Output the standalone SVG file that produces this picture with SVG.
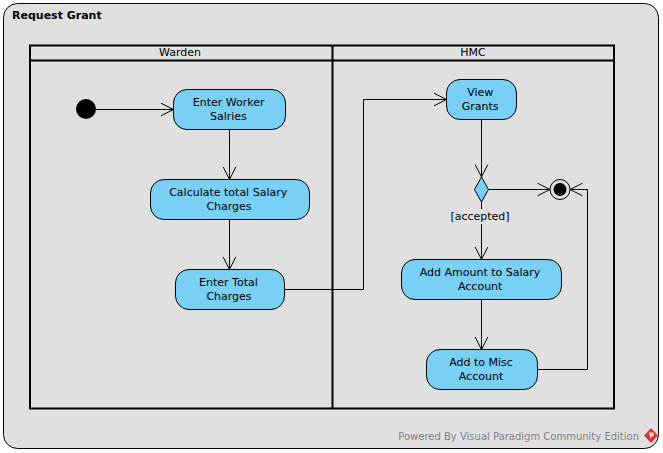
<svg xmlns="http://www.w3.org/2000/svg" width="663" height="453" viewBox="0 0 663 453">
<style>
text{font-family:"DejaVu Sans",sans-serif;font-size:11px;fill:#000;text-anchor:middle}
.a{fill:#7acff5;stroke:#000;stroke-width:1}
.c{fill:none;stroke:#000;stroke-width:1;marker-end:url(#o)}
.s{fill:none;stroke:#000;stroke-width:2}
</style>
<defs>
<marker id="o" markerUnits="userSpaceOnUse" markerWidth="16" markerHeight="16" refX="14" refY="8" orient="auto" overflow="visible"><path d="M1.500 1.700L14 8L1.500 14.300" fill="none" stroke="#000" stroke-width="1"/></marker>
</defs>
<rect width="663" height="453" fill="#fff"/>
<g id="frame">
<rect x="3.500" y="3.500" width="655" height="445" rx="14" fill="#e0e0e0" stroke="#000" stroke-width="1"/>
<text x="12" y="19" style="font-weight:bold;text-anchor:start">Request Grant</text>
</g>
<g id="swimlanes">
<rect class="s" x="30" y="45.500" width="584" height="363"/>
<path class="s" d="M30 60.500H614M332.500 45.500V408.500"/>
<text x="180" y="56">Warden</text>
<text x="473" y="56">HMC</text>
</g>
<g id="connectors">
<path class="c" d="M96 109.500H173.500"/>
<path class="c" d="M229.500 130V179.500"/>
<path class="c" d="M229.500 220V269.500"/>
<path class="c" d="M285 289.500H363.500V99.500H446.500"/>
<path class="c" d="M481.500 120V177"/>
<path class="c" d="M489 189.500H550"/>
<path class="c" d="M481.500 202V259.500"/>
<path class="c" d="M481.500 300V349.500"/>
<path class="c" d="M538 369.500H587.500V189.500H570"/>
</g>
<g id="start"><circle cx="86" cy="109" r="10" fill="#000"/></g>
<g id="enter-worker"><rect class="a" x="173.500" y="89.500" width="112" height="40" rx="13.500"/><text x="228.700" y="106">Enter Worker</text><text x="228.400" y="120">Salries</text></g>
<g id="calculate"><rect class="a" x="150.500" y="179.500" width="159" height="40" rx="13.500"/><text x="228.200" y="196">Calculate total Salary</text><text x="229" y="210">Charges</text></g>
<g id="enter-total"><rect class="a" x="175.500" y="269.500" width="109" height="40" rx="13.500"/><text x="228.400" y="286">Enter Total</text><text x="229" y="300">Charges</text></g>
<g id="view-grants"><rect class="a" x="446.500" y="79.500" width="70" height="40" rx="13.500"/><text x="480.200" y="96">View</text><text x="480.200" y="110">Grants</text></g>
<g id="decision"><path class="a" d="M481.500 177L488.500 189.500L481.500 202L474.500 189.500Z"/></g>
<g id="guard"><rect x="448" y="209" width="66" height="15" fill="#e0e0e0"/><text x="480" y="220">[accepted]</text></g>
<g id="end"><circle cx="560" cy="189.500" r="10" fill="none" stroke="#000"/><circle cx="560" cy="189.500" r="6.500" fill="#000"/></g>
<g id="add-amount"><rect class="a" x="401.500" y="259.500" width="160" height="40" rx="13.500"/><text x="480" y="276">Add Amount to Salary</text><text x="480.200" y="290">Account</text></g>
<g id="add-misc"><rect class="a" x="426.500" y="349.500" width="111" height="40" rx="13.500"/><text x="481" y="366">Add to Misc</text><text x="481" y="380">Account</text></g>
<g id="footer">
<text x="639" y="440" style="text-anchor:end;fill:#808080;font-size:10px">Powered By Visual Paradigm Community Edition</text>
<path d="M651 428L658 435.500L651 443L644 435.500Z" fill="#d8383a"/>
<path d="M649 432.500L653.500 432.500L654 435.500L651 437L650.500 439Z" fill="#f5d5d5"/>
</g>
</svg>
